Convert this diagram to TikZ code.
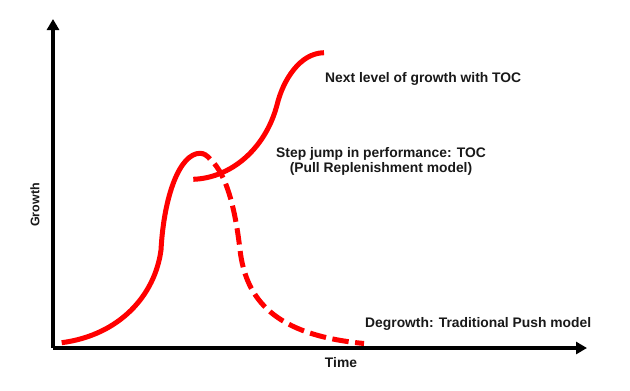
\documentclass[tikz,border=0pt]{standalone}
\usepackage{fontspec}
\setmainfont{Liberation Sans}
\usetikzlibrary{arrows.meta}
\begin{document}
\begin{tikzpicture}[x=1bp,y=-1bp,
  axisline/.style={line width=3.2bp,black,-{Triangle[length=11bp,width=12bp]}},
  curveline/.style={line width=5bp,red,line cap=butt},
  dashcurve/.style={curveline,dash pattern=on 16.5bp off 6.5bp,dash phase=16.5bp},
  lbl/.style={inner sep=0pt,font=\fontsize{13.9}{16}\selectfont\bfseries,text=black!90}]
\useasboundingbox[fill=white] (0,0) rectangle (630,390);
% axes
\coordinate (O) at (53,348);
\coordinate (ytop) at (53,19);
\coordinate (xend) at (587,348);
\draw[axisline] (O) -- (ytop);
\draw[axisline] (O) -- (xend);
% first curve (solid rise)
\draw[curveline] (61.7,342.7) .. controls (120,335) and (155,295) .. (161,250)
  .. controls (164,195) and (180,153.3) .. (200,153.3)
  .. controls (204,153.3) and (207,155.5) .. (210,159);
% decline (dashed)
\draw[dashcurve] (210,159) .. controls (228,175) and (236,215) .. (240,250)
  .. controls (246,300) and (275,335) .. (364,343.5);
% second curve (step jump)
\draw[curveline] (193.3,179.3) .. controls (230,178) and (265,150) .. (277,105)
  .. controls (283,80) and (300,53) .. (324,52.7);
% labels
\node[lbl,anchor=base west] (next) at (325,82.7) {Next level of growth with TOC};
\node[lbl,anchor=base] (step1) at (381,157.7) {Step jump in performance: TOC};
\node[lbl,anchor=base] (step2) at (381,172.5) {(Pull Replenishment model)};
\node[lbl,anchor=base west] (degrowth) at (365,327.7) {Degrowth: Traditional Push model};
\node[lbl,anchor=base] (time) at (341,367.3) {Time};
\node[lbl,anchor=base,rotate=90,font=\fontsize{12.5}{15}\selectfont\bfseries] (growth) at (39.3,205) {Growth};
\end{tikzpicture}
\end{document}
